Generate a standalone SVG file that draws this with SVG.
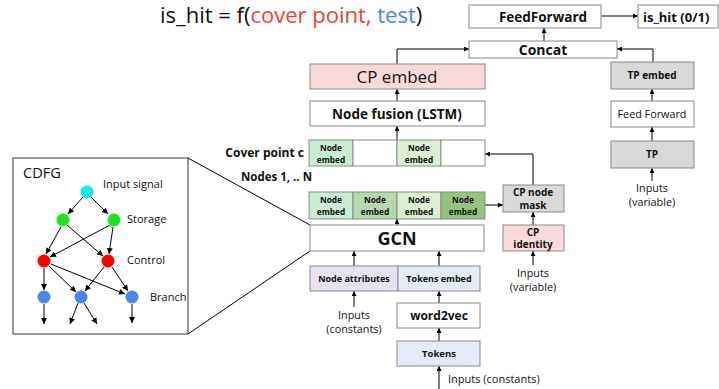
<svg xmlns="http://www.w3.org/2000/svg" width="719" height="389" viewBox="0 0 719 389">
<defs>
<marker id="ah" viewBox="0 0 6 6" refX="6" refY="3" markerWidth="5" markerHeight="5" orient="auto" markerUnits="userSpaceOnUse">
<path d="M0,0 L6,3 L0,6 z" fill="#000"/>
</marker>
<marker id="ahs" viewBox="0 0 6 6" refX="6" refY="3" markerWidth="6" markerHeight="6" orient="auto" markerUnits="userSpaceOnUse">
<path d="M0,0 L6,3 L0,6 z" fill="#000"/>
</marker>
</defs>
<style>
text{font-family:"Open Sans","Liberation Sans",sans-serif;fill:#111;}
.box{stroke:#8a8a8a;stroke-width:1;}
.w{fill:#fff;}
.g{fill:#d9d9d9;}
.p{fill:#f9dadb;}
.lav{fill:#e6e2f3;}
.lb{fill:#e3ebf8;}
.c1{fill:#c9ecd5;}
.c2{fill:#b6d8ad;}
.c3{fill:#daf0d0;}
.c4{fill:#93c47d;}
.b{font-weight:bold;}
.m{text-anchor:middle;}
.ln{stroke:#000;stroke-width:1;fill:none;}
.arr{stroke:#000;stroke-width:1;fill:none;marker-end:url(#ah);}
.garr{stroke:#000;stroke-width:1;fill:none;marker-end:url(#ahs);}
.ne{font-size:8.3px;font-weight:bold;text-anchor:middle;}
</style>
<rect width="719" height="389" fill="#fff"/>

<text x="160" y="23" font-size="22"><tspan>is_hit = f(</tspan><tspan fill="#ea4335" style="fill:#ea4335">cover point, </tspan><tspan fill="#4285f4" style="fill:#4285f4">test</tspan><tspan>)</tspan></text>

<g id="connectors">
<line class="arr" x1="601" y1="16" x2="638" y2="16"/>
<line class="arr" x1="544" y1="41" x2="544" y2="28"/>
<polyline class="arr" points="397,64 397,49 469,49"/>
<polyline class="arr" points="653,62 653,49 617,49"/>
<line class="arr" x1="397" y1="101" x2="397" y2="89"/>
<line class="arr" x1="397" y1="140" x2="397" y2="126"/>
<line class="arr" x1="397" y1="225" x2="397" y2="219"/>
<line class="arr" x1="485" y1="205" x2="503" y2="205"/>
<polyline class="arr" points="533,185 533,154 485,154"/>
<line class="arr" x1="533" y1="225" x2="533" y2="212"/>
<line class="arr" x1="533" y1="265" x2="533" y2="251"/>
<line class="arr" x1="354" y1="266" x2="354" y2="251"/>
<line class="arr" x1="439" y1="266" x2="439" y2="251"/>
<line class="arr" x1="354" y1="307" x2="354" y2="291"/>
<line class="arr" x1="439" y1="303" x2="439" y2="291"/>
<line class="arr" x1="439" y1="341" x2="439" y2="328"/>
<line class="arr" x1="439" y1="389" x2="439" y2="366"/>
<line class="arr" x1="652" y1="101" x2="652" y2="89"/>
<line class="arr" x1="652" y1="141" x2="652" y2="127"/>
<line class="arr" x1="652" y1="181" x2="652" y2="168"/>
<line class="ln" x1="188" y1="158" x2="310" y2="225"/>
<line class="ln" x1="188" y1="334" x2="310" y2="251"/>
</g>

<g id="feedforward"><rect class="box w" x="469" y="5" width="132" height="23"/><text class="b m" x="543" y="21.5" font-size="13.5">FeedForward</text></g>
<g id="is_hit"><rect class="box w" x="638" y="5" width="80" height="23"/><text class="b" x="643" y="21.5" font-size="13">is_hit (0/1)</text></g>
<g id="concat"><rect class="box w" x="469" y="41" width="148" height="17"/><text class="b m" x="543" y="55" font-size="14">Concat</text></g>
<g id="cp_embed"><rect class="box p" x="310" y="64" width="175" height="25"/><text class="m" x="397" y="82.5" font-size="17">CP embed</text></g>
<g id="node_fusion"><rect class="box w" x="310" y="101" width="175" height="25"/><text class="b m" x="397" y="118.5" font-size="13.5">Node fusion (LSTM)</text></g>

<g id="tp_embed"><rect class="box g" x="611" y="62" width="83" height="27"/><text class="b m" x="652" y="79" font-size="10">TP embed</text></g>
<g id="tp_ff"><rect class="box w" x="611" y="101" width="83" height="26"/><text class="m" x="652" y="118" font-size="10.8">Feed Forward</text></g>
<g id="tp"><rect class="box g" x="611" y="141" width="83" height="27"/><text class="b m" x="652" y="158" font-size="10">TP</text></g>
<g id="tp_inputs"><text class="m" x="652" y="192" font-size="10.8">Inputs</text><text class="m" x="652" y="206" font-size="10.8">(variable)</text></g>

<g id="cover_row">
<text class="b" x="304" y="157" font-size="12" text-anchor="end">Cover point c</text>
<rect class="box c1" x="309" y="140" width="44" height="26"/>
<text class="ne" x="331" y="151">Node</text><text class="ne" x="331" y="162.5">embed</text>
<rect class="box w" x="353" y="140" width="44" height="26"/>
<rect class="box c3" x="397" y="140" width="44" height="26"/>
<text class="ne" x="419" y="151">Node</text><text class="ne" x="419" y="162.5">embed</text>
<rect class="box w" x="441" y="140" width="44" height="26"/>
</g>

<g id="nodes_row">
<text class="b" x="241" y="181" font-size="11.5">Nodes 1, .. N</text>
<rect class="box c1" x="309" y="192" width="44" height="27"/>
<text class="ne" x="331" y="203">Node</text><text class="ne" x="331" y="214.5">embed</text>
<rect class="box c2" x="353" y="192" width="44" height="27"/>
<text class="ne" x="375" y="203">Node</text><text class="ne" x="375" y="214.5">embed</text>
<rect class="box c3" x="397" y="192" width="44" height="27"/>
<text class="ne" x="419" y="203">Node</text><text class="ne" x="419" y="214.5">embed</text>
<rect class="box c4" x="441" y="192" width="44" height="27"/>
<text class="ne" x="463" y="203">Node</text><text class="ne" x="463" y="214.5">embed</text>
</g>

<g id="cp_node_mask"><rect class="box g" x="503" y="185" width="61" height="27"/><text class="b m" x="533" y="196" font-size="10">CP node</text><text class="b m" x="533" y="208.5" font-size="10">mask</text></g>
<g id="cp_identity"><rect class="box p" x="503" y="225" width="61" height="26"/><text class="b m" x="533" y="235.5" font-size="10">CP</text><text class="b m" x="533" y="248" font-size="10">identity</text></g>
<g id="cp_inputs"><text class="m" x="533" y="276.5" font-size="10.8">Inputs</text><text class="m" x="533" y="290.5" font-size="10.8">(variable)</text></g>

<g id="gcn"><rect class="box w" x="310" y="225" width="174" height="26"/><text class="b m" x="397" y="244.5" font-size="18">GCN</text></g>
<g id="node_attributes"><rect class="box lav" x="310" y="266" width="88" height="25"/><text class="b m" x="354" y="281.5" font-size="9">Node attributes</text></g>
<g id="tokens_embed"><rect class="box lb" x="398" y="266" width="82" height="25"/><text class="b m" x="439" y="281.5" font-size="9">Tokens embed</text></g>
<g id="na_inputs"><text class="m" x="354" y="318.5" font-size="10.8">Inputs</text><text class="m" x="354" y="332.5" font-size="10.8">(constants)</text></g>
<g id="word2vec"><rect class="box w" x="397" y="303" width="83" height="25"/><text class="b m" x="439" y="320" font-size="12">word2vec</text></g>
<g id="tokens"><rect class="box lb" x="397" y="341" width="83" height="25"/><text class="b m" x="439" y="357" font-size="9.5">Tokens</text></g>
<g id="tok_inputs"><text x="448" y="383" font-size="11">Inputs (constants)</text></g>

<g id="cdfg">
<rect x="13" y="158" width="175" height="176" fill="#fff" stroke="#333" stroke-width="1"/>
<text x="23" y="178" font-size="14.5">CDFG</text>
<text x="103" y="188" font-size="11">Input signal</text>
<text x="127" y="223" font-size="11">Storage</text>
<text x="127" y="264" font-size="11">Control</text>
<text x="150" y="301" font-size="11">Branch</text>
<g>
<line class="garr" x1="83" y1="197" x2="68" y2="214"/>
<line class="garr" x1="91" y1="197" x2="108" y2="214"/>
<line class="garr" x1="61" y1="227" x2="46" y2="254"/>
<line class="garr" x1="67" y1="225" x2="103" y2="256"/>
<line class="garr" x1="110" y1="225" x2="50" y2="257"/>
<line class="garr" x1="113" y1="227" x2="109" y2="254"/>
<line class="garr" x1="44" y1="268" x2="44" y2="290"/>
<line class="garr" x1="49" y1="266" x2="76" y2="292"/>
<line class="garr" x1="51" y1="264" x2="125" y2="294"/>
<line class="garr" x1="104" y1="267" x2="85" y2="291"/>
<line class="garr" x1="112" y1="267" x2="128" y2="291"/>
<line class="garr" x1="44" y1="304" x2="44" y2="324"/>
<line class="garr" x1="78" y1="303" x2="70" y2="324"/>
<line class="garr" x1="84" y1="303" x2="97" y2="324"/>
<line class="garr" x1="132" y1="304" x2="132" y2="323"/>
</g>
<circle cx="87" cy="192" r="6.5" fill="#1ae8f2"/>
<circle cx="63" cy="220" r="6.5" fill="#1ee61e"/>
<circle cx="114" cy="220" r="6.5" fill="#1ee61e"/>
<circle cx="44" cy="261" r="6.5" fill="#ff0000"/>
<circle cx="108" cy="261" r="6.5" fill="#ff0000"/>
<circle cx="44" cy="297" r="6.5" fill="#4a86e8"/>
<circle cx="81" cy="297" r="6.5" fill="#4a86e8"/>
<circle cx="132" cy="297" r="6.5" fill="#4a86e8"/>
</g>
</svg>
